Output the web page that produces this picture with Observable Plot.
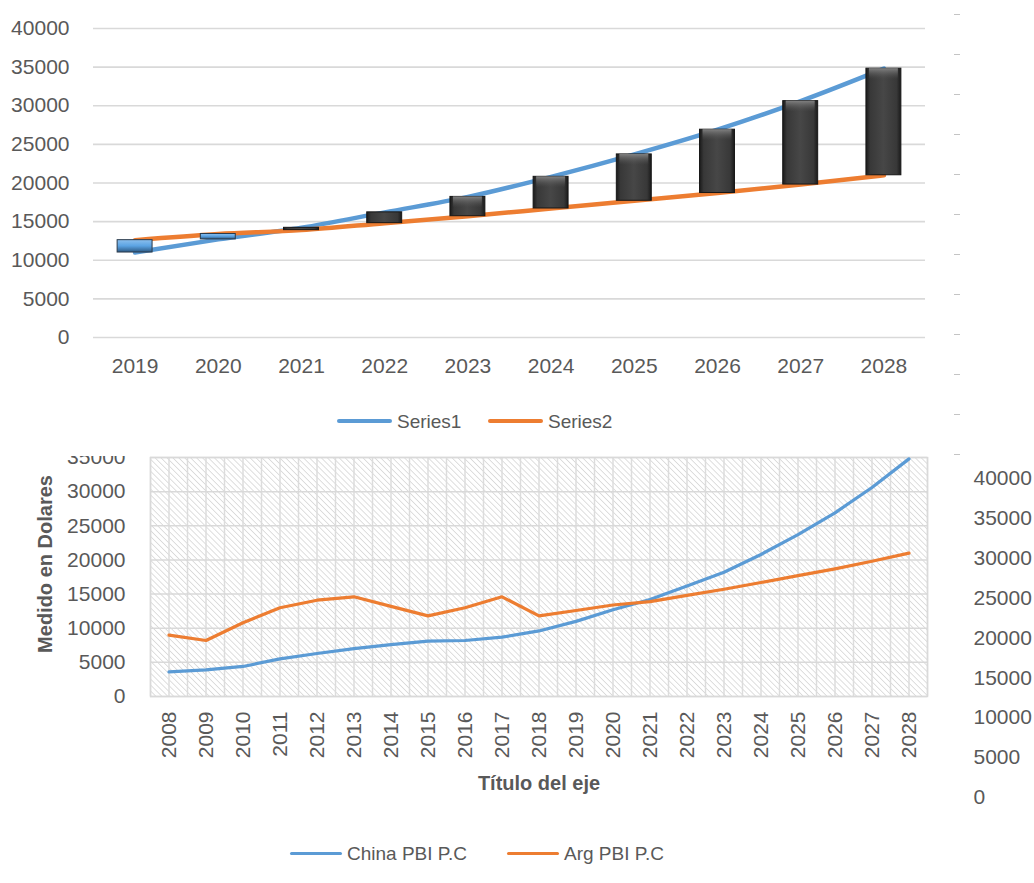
<!DOCTYPE html>
<html><head><meta charset="utf-8">
<script src="https://cdn.jsdelivr.net/npm/d3@7"></script>
<script src="https://cdn.jsdelivr.net/npm/@observablehq/plot@0.6"></script>
<style>
html,body{margin:0;padding:0;background:#fff;}
#root{position:relative;width:1034px;height:883px;overflow:hidden;background:#fff;font-family:"Liberation Sans",Arial,sans-serif;}
#root > svg{position:absolute;display:block;}
.leg{position:absolute;display:flex;align-items:center;font-size:19px;color:#595959;white-space:nowrap;line-height:1;}
.sw{display:inline-block;margin-right:5px;border-radius:2px;}
</style></head><body><div id="root"></div>
<script>
(function(){
// ---- data ----
const years = [2008,2009,2010,2011,2012,2013,2014,2015,2016,2017,2018,2019,2020,2021,2022,2023,2024,2025,2026,2027,2028];
const china = [3600,3900,4400,5500,6300,7000,7600,8100,8200,8700,9600,11000,12700,14200,16200,18200,20800,23700,26900,30600,34800];
const arg   = [9000,8200,10800,13000,14100,14600,13200,11800,13000,14600,11800,12600,13400,13900,14800,15700,16700,17700,18700,19800,21000];
const topYears = [2019,2020,2021,2022,2023,2024,2025,2026,2027,2028];
const yTicksTop = [0,5000,10000,15000,20000,25000,30000,35000,40000];
const yTicksBottom = [0,5000,10000,15000,20000,25000,30000,35000];
const yTicksRight = [0,5000,10000,15000,20000,25000,30000,35000,40000];
const sideTicks = [0,1,2,3,4,5,6,7,8,9,10,11];
const topLegend = ["Series1","Series2"];
const bottomLegend = ["China PBI P.C","Arg PBI P.C"];
const yTitle = "Medido en Dolares";
const xTitle = "Título del eje";

const BLUE = "#5B9BD5", ORANGE = "#ED7D31", GRAY = "#595959";
const FONT = '"Liberation Sans", Arial, sans-serif';
const root = document.getElementById("root");

// ---- bottom chart ----
const bottomData = years.map((year, i) => ({year, china: china[i], arg: arg[i]}));
const gridHalf = d3.range(years[0] - 0.5, years[years.length - 1] + 0.51, 0.5);
const bottomChart = Plot.plot({
  width: 1034, height: 370, marginLeft: 150, marginRight: 107, marginTop: 17, marginBottom: 114,
  style: {background: "transparent", color: GRAY, fontFamily: FONT, fontSize: "21px"},
  x: {type: "linear", domain: [years[0] - 0.5, years[years.length - 1] + 0.5], ticks: years, tickFormat: d => String(d), tickSize: 0, tickPadding: 15, tickRotate: -90, label: null},
  y: {domain: [0, 35000], ticks: yTicksBottom, tickFormat: d => String(d), tickSize: 0, tickPadding: 25, label: null},
  marks: [
    Plot.frame({fill: "url(#hatch)", stroke: "none"}),
    Plot.ruleX(gridHalf, {stroke: "#dcdcdc", strokeWidth: 1.5}),
    Plot.ruleY(yTicksBottom, {stroke: "#d9d9d9", strokeWidth: 1.5}),
    Plot.frame({stroke: "#d9d9d9", strokeWidth: 1.5}),
    Plot.line(bottomData, {x: "year", y: "china", stroke: BLUE, strokeWidth: 3.2}),
    Plot.line(bottomData, {x: "year", y: "arg", stroke: ORANGE, strokeWidth: 3.2}),
    Plot.text([yTitle], {frameAnchor: "left", textAnchor: "middle", lineAnchor: "middle", dx: -105, dy: -13, rotate: -90, fontWeight: "bold", fontSize: 20, fill: GRAY}),
    Plot.text([xTitle], {frameAnchor: "bottom", textAnchor: "middle", lineAnchor: "middle", dy: 87, fontWeight: "bold", fontSize: 20, fill: GRAY})
  ]
});
d3.select(bottomChart).insert("defs", ":first-child").html(`
  <pattern id="hatch" width="4.2" height="4.2" patternUnits="userSpaceOnUse" patternTransform="rotate(-45)">
    <rect width="4.2" height="4.2" fill="#ffffff"/>
    <line x1="0" y1="0" x2="0" y2="4.2" stroke="#d2d2d2" stroke-width="1.4"/>
  </pattern>`);
bottomChart.style.left = "0px"; bottomChart.style.top = "440px";
root.appendChild(bottomChart);

// ---- top chart ----
const topData = topYears.map(year => {
  const i = years.indexOf(year);
  return {year, s1: china[i], s2: arg[i]};
});
const up = topData.filter(d => d.s2 > d.s1);
const down = topData.filter(d => d.s2 <= d.s1);
const BAR = 0.21;
const topChart = Plot.plot({
  width: 1034, height: 456, marginLeft: 93, marginRight: 109, marginTop: 28, marginBottom: 119,
  style: {background: "#ffffff", color: GRAY, fontFamily: FONT, fontSize: "21px"},
  x: {type: "linear", domain: [topYears[0] - 0.5, topYears[topYears.length - 1] + 0.5], ticks: topYears, tickFormat: d => String(d), tickSize: 0, tickPadding: 21, label: null},
  y: {domain: [0, 40000], ticks: yTicksTop, tickFormat: d => String(d), tickSize: 0, tickPadding: 24, label: null},
  marks: [
    Plot.ruleY(yTicksTop, {stroke: "#d9d9d9", strokeWidth: 1.6}),
    Plot.line(topData, {x: "year", y: "s1", stroke: BLUE, strokeWidth: 4.5, curve: "monotone-x"}),
    Plot.line(topData, {x: "year", y: "s2", stroke: ORANGE, strokeWidth: 4.5, curve: "monotone-x"}),
    Plot.rect(up, {x1: d => d.year - BAR, x2: d => d.year + BAR, y1: "s1", y2: "s2", fill: "url(#upGrad)", stroke: "#2a3a4a", strokeWidth: 1}),
    Plot.rect(down, {x1: d => d.year - BAR, x2: d => d.year + BAR, y1: "s1", y2: "s2", fill: "url(#downGrad)", stroke: "#161616", strokeWidth: 1}),
    Plot.rect(down.filter(d => d.s1 - d.s2 > 1500), {x1: d => d.year - BAR, x2: d => d.year + BAR, y1: "s1", y2: "s1", insetBottom: -11, insetLeft: 3, insetRight: 3, fill: "url(#hiGrad)"})
  ]
});
d3.select(topChart).insert("defs", ":first-child").html(`
  <linearGradient id="downGrad" x1="0" x2="1" y1="0" y2="0">
    <stop offset="0" stop-color="#1a1a1a"/><stop offset="0.12" stop-color="#383838"/>
    <stop offset="0.5" stop-color="#474747"/><stop offset="0.88" stop-color="#383838"/>
    <stop offset="1" stop-color="#1a1a1a"/>
  </linearGradient>
  <linearGradient id="upGrad" x1="0" x2="0" y1="0" y2="1">
    <stop offset="0" stop-color="#8cc0ee"/><stop offset="0.5" stop-color="#5ba3e3"/>
    <stop offset="1" stop-color="#2d5a84"/>
  </linearGradient>
  <linearGradient id="hiGrad" x1="0" x2="0" y1="0" y2="1">
    <stop offset="0" stop-color="#8a8a8a" stop-opacity="0.9"/><stop offset="1" stop-color="#555555" stop-opacity="0"/>
  </linearGradient>`);
topChart.style.left = "0px"; topChart.style.top = "0px";
root.appendChild(topChart);

// ---- stray tick dashes at right of top chart ----
const dashes = Plot.plot({
  width: 40, height: 470, marginLeft: 25, marginRight: 14, marginTop: 14, marginBottom: 16,
  style: {background: "transparent", color: "#c4c4c4"},
  y: {domain: [0, sideTicks.length - 1], ticks: sideTicks, tickFormat: () => "", tickSize: 6, tickPadding: 0, label: null},
  marks: [Plot.ruleY(sideTicks, {strokeOpacity: 0})]
});
dashes.style.left = "935px"; dashes.style.top = "0px";
root.appendChild(dashes);

// ---- secondary axis of bottom chart ----
const rightAxis = Plot.plot({
  width: 94, height: 377, marginLeft: 10, marginRight: 83, marginTop: 38, marginBottom: 20,
  style: {background: "transparent", color: GRAY, fontFamily: FONT, fontSize: "21px"},
  y: {domain: [0, 40000], ticks: yTicksRight, tickFormat: d => String(d), tickSize: 0, tickPadding: 22, axis: "right", label: null},
  marks: [Plot.ruleY(yTicksRight, {strokeOpacity: 0})]
});
rightAxis.style.left = "940px"; rightAxis.style.top = "440px";
root.appendChild(rightAxis);

// ---- legends ----
function legendItem(label, color, left, cy, swW, swH) {
  const el = document.createElement("div");
  el.className = "leg";
  el.style.left = left + "px";
  el.style.top = (cy - 11) + "px";
  el.style.height = "22px";
  const sw = document.createElement("span");
  sw.className = "sw";
  sw.style.width = swW + "px"; sw.style.height = swH + "px"; sw.style.background = color;
  const tx = document.createElement("span");
  tx.textContent = label;
  el.appendChild(sw); el.appendChild(tx);
  root.appendChild(el);
}
legendItem(topLegend[0], BLUE, 337, 421, 55, 4);
legendItem(topLegend[1], ORANGE, 488, 421, 55, 4);
legendItem(bottomLegend[0], BLUE, 290, 853, 52, 3);
legendItem(bottomLegend[1], ORANGE, 507, 853, 52, 3);
})();
</script></body></html>
